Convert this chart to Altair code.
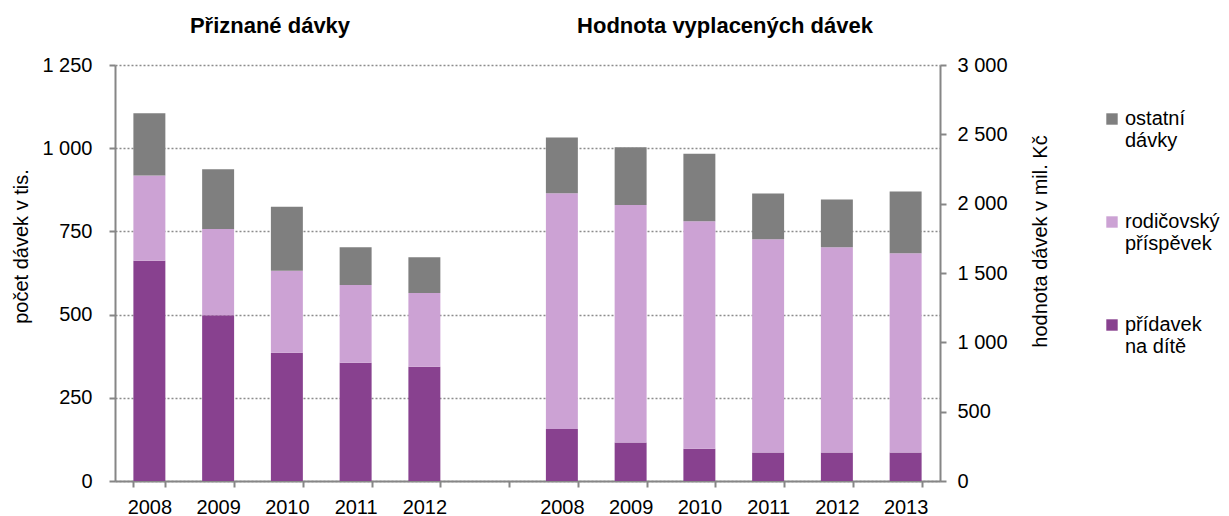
import altair as alt
import pandas as pd

years_left = ["2008", "2009", "2010", "2011", "2012"]
years_right = ["2008", "2009", "2010", "2011", "2012", "2013"]
series = ["přídavek na dítě", "rodičovský příspěvek", "ostatní dávky"]
legend_order = ["ostatní dávky", "rodičovský příspěvek", "přídavek na dítě"]
legend_colors = ["#7f7f7f", "#cca2d4", "#88418f"]

left_pridavek = [662, 498, 385, 355, 343]
left_rodicovsky = [256, 259, 247, 234, 222]
left_ostatni = [187, 180, 192, 113, 107]

right_pridavek = [375, 277, 233, 205, 205, 205]
right_rodicovsky = [1701, 1713, 1641, 1539, 1481, 1438]
right_ostatni = [402, 416, 486, 330, 344, 445]

left_ticks = [0, 250, 500, 750, 1000, 1250]
right_ticks = [0, 500, 1000, 1500, 2000, 2500, 3000]
titles = ["Přiznané dávky", "Hodnota vyplacených dávek"]
left_axis_title = "počet dávek v tis."
right_axis_title = "hodnota dávek v mil. Kč"

FONT = "Liberation Sans"


def build(prefix, years, values):
    rows = []
    for si, (s, vals) in enumerate(zip(series, values)):
        for y, v in zip(years, vals):
            rows.append({"cat": prefix + y, "series": s, "ord": si, "value": v})
    return pd.DataFrame(rows)


left_df = build("L", years_left, [left_pridavek, left_rodicovsky, left_ostatni])
right_df = build("R", years_right, [right_pridavek, right_rodicovsky, right_ostatni])

domain = ["L" + y for y in years_left] + ["X"] + ["R" + y for y in years_right]

x_enc = alt.X(
    "cat:N",
    scale=alt.Scale(domain=domain, paddingInner=0.535, paddingOuter=0.2675),
    sort=domain,
    axis=alt.Axis(
        title=None,
        labelExpr="slice(datum.label, 1)",
        tickBand="extent",
        labelAngle=0,
        labelPadding=10,
        grid=False,
    ),
)

color_enc = alt.Color(
    "series:N",
    scale=alt.Scale(domain=legend_order, range=legend_colors),
    legend=alt.Legend(
        title=None,
        orient="none",
        legendX=987,
        legendY=44,
        symbolType="square",
        symbolSize=130,
        symbolStrokeWidth=0,
        labelFont=FONT,
        labelFontSize=20,
        labelColor="#000000",
        labelLimit=300,
        labelOffset=3,
        rowPadding=61,
        padding=0,
        labelExpr="datum.label == 'přídavek na dítě' ? ['přídavek', 'na dítě'] : split(datum.label, ' ')",
    ),
)

left_bars = alt.Chart(left_df).mark_bar().encode(
    x=x_enc,
    y=alt.Y(
        "value:Q",
        stack="zero",
        scale=alt.Scale(domain=[0, 1250], nice=False),
        axis=alt.Axis(
            orient="left",
            values=left_ticks,
            title=left_axis_title,
            titleAngle=270,
            titleX=-94,
            titleY=181,
            titleBaseline="middle",
            titleAlign="center",
            labelExpr="replace(format(datum.value, ','), ',', ' ')",
            labelPadding=17,
            grid=True,
            gridDash=[2, 2],
            gridColor="#8c8c8c",
            gridWidth=1.4,
        ),
    ),
    color=color_enc,
    order=alt.Order("ord:Q", sort="ascending"),
)

right_bars = alt.Chart(right_df).mark_bar().encode(
    x=x_enc,
    y=alt.Y(
        "value:Q",
        stack="zero",
        scale=alt.Scale(domain=[0, 3000], nice=False),
        axis=alt.Axis(
            orient="right",
            values=right_ticks,
            title=right_axis_title,
            titleAngle=270,
            titleX=100,
            titleY=176,
            titleBaseline="middle",
            titleAlign="center",
            labelExpr="replace(format(datum.value, ','), ',', ' ')",
            labelPadding=11,
            grid=False,
        ),
    ),
    color=color_enc,
    order=alt.Order("ord:Q", sort="ascending"),
)

title_style = dict(font=FONT, fontSize=22, fontWeight="bold", color="#000000", align="center", baseline="alphabetic")

left_title = alt.Chart(pd.DataFrame({"t": [titles[0]]})).mark_text(**title_style).encode(
    text="t:N", x=alt.value(155), y=alt.value(-32)
)
right_title = alt.Chart(pd.DataFrame({"t": [titles[1]]})).mark_text(**title_style).encode(
    text="t:N", x=alt.value(610), y=alt.value(-32)
)

chart = (
    alt.layer(left_bars, right_bars, left_title, right_title)
    .resolve_scale(y="independent")
    .properties(
        width=825,
        height=416,
        autosize=alt.AutoSizeParams(type="none"),
        padding={"left": 107, "top": 57, "right": 281, "bottom": 35},
    )
    .configure_view(strokeWidth=0)
    .configure_axis(
        labelFont=FONT,
        labelFontSize=20,
        labelColor="#000000",
        titleFont=FONT,
        titleFontSize=20,
        titleFontWeight="normal",
        titleColor="#000000",
        domainColor="#868686",
        domainWidth=2,
        tickColor="#868686",
        tickWidth=2,
        tickSize=6,
    )
)

chart.save("out.html", embed_options={"renderer": "svg", "actions": False})
